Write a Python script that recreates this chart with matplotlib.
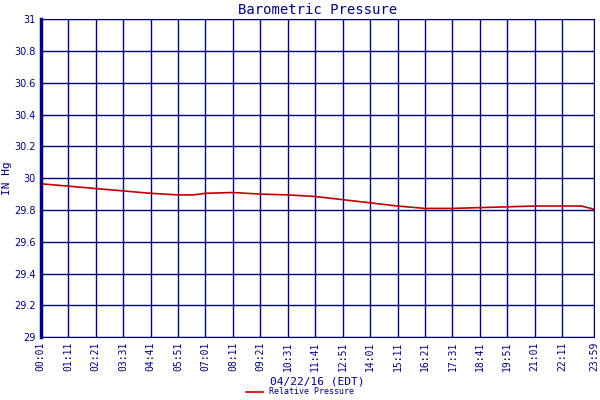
import matplotlib
matplotlib.use("Agg")
import matplotlib.pyplot as plt
import numpy as np

NAVY = "#00007f"

tick_labels = ["00:01", "01:11", "02:21", "03:31", "04:41", "05:51", "07:01", "08:11",
               "09:21", "10:31", "11:41", "12:51", "14:01", "15:11", "16:21", "17:31",
               "18:41", "19:51", "21:01", "22:11", "23:59"]
# minutes since midnight and pressure (inHg)
minutes = [1, 71, 141, 211, 281, 351, 390, 421, 491, 561, 631, 701, 771, 841, 911, 981,
           1051, 1121, 1191, 1261, 1331, 1380, 1412]
pressure = [29.965, 29.95, 29.935, 29.92, 29.905, 29.895, 29.895, 29.905, 29.91, 29.90,
            29.895, 29.885, 29.865, 29.845, 29.825, 29.81, 29.81, 29.815, 29.82, 29.825,
            29.825, 29.825, 29.805]


def hm(s):
    h, m = s.split(":")
    return int(h) * 60 + int(m)


tick_pos = [hm(s) for s in tick_labels[:-1]] + [1412]

fig = plt.figure(figsize=(6, 4), dpi=100)
ax = fig.add_axes([0.068, 0.157, 0.922, 0.795])
ax.plot(minutes, pressure, color="#c00000", lw=1.2, label="Relative Pressure")
ax.set_xlim(1, 1412)
ax.set_ylim(29, 31)
ax.set_yticks(np.arange(29, 31.01, 0.2))
ax.set_yticklabels(["29", "29.2", "29.4", "29.6", "29.8", "30", "30.2", "30.4", "30.6", "30.8", "31"])
ax.set_xticks(tick_pos)
ax.set_xticklabels(tick_labels, rotation=90, family="monospace")
ax.tick_params(colors=NAVY, labelsize=7, length=0)
ax.grid(True, color=NAVY, lw=1)
for s in ax.spines.values():
    s.set_color(NAVY)
ax.spines["left"].set_linewidth(2.5)
ax.set_title("Barometric Pressure", color=NAVY, fontsize=10, family="monospace", pad=4)
ax.set_ylabel("IN Hg", color=NAVY, fontsize=8, family="monospace", labelpad=2)
ax.set_xlabel("04/22/16 (EDT)", color=NAVY, fontsize=8, family="monospace", labelpad=4)
fig.legend(loc="lower center", bbox_to_anchor=(0.5, -0.01), frameon=False,
           prop={"size": 6, "family": "monospace"}, labelcolor=NAVY, handlelength=2)
fig.savefig("out.png", dpi=100)
